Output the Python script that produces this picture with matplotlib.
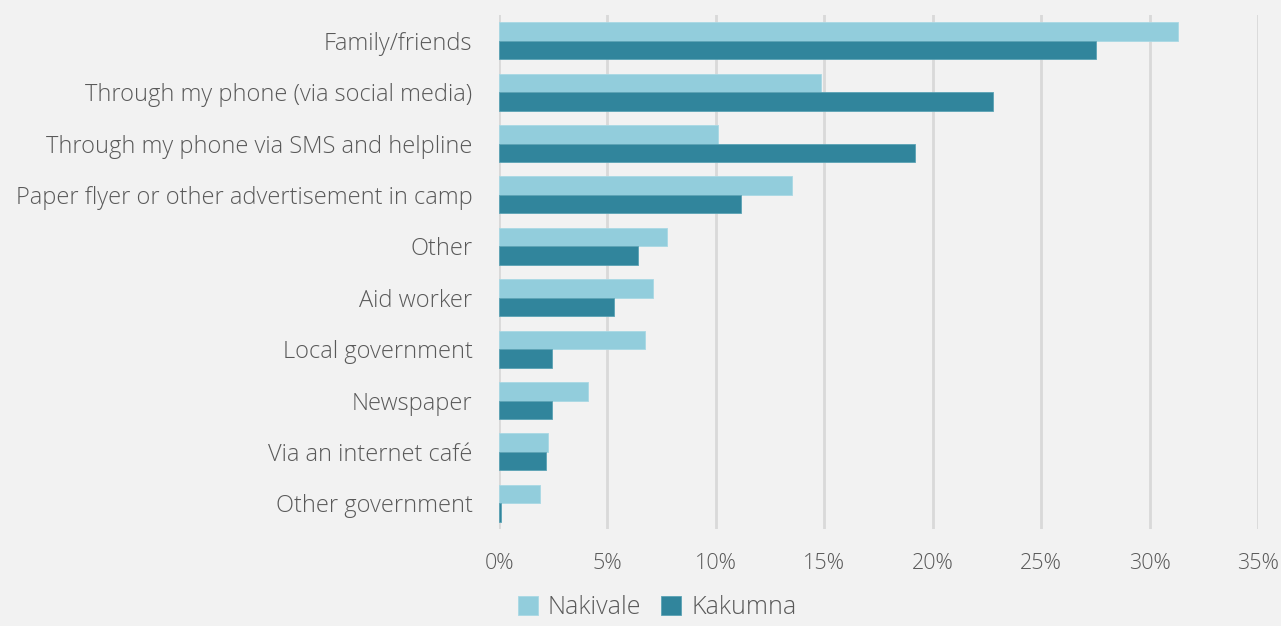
import matplotlib
matplotlib.use("Agg")
import matplotlib.pyplot as plt
import numpy as np
from matplotlib.ticker import FuncFormatter

categories = ["Family/friends", "Through my phone (via social media)",
              "Through my phone via SMS and helpline",
              "Paper flyer or other advertisement in camp", "Other", "Aid worker",
              "Local government", "Newspaper", "Via an internet café", "Other government"]
nakivale = [31.3, 14.85, 10.1, 13.5, 7.75, 7.1, 6.75, 4.1, 2.25, 1.9]
kakumna = [27.55, 22.8, 19.2, 11.15, 6.4, 5.3, 2.45, 2.45, 2.15, 0.1]
xticks = [0, 5, 10, 15, 20, 25, 30, 35]

plt.rcParams['font.family'] = ['Open Sans', 'DejaVu Sans']
plt.rcParams['font.weight'] = 'light'
bg = "#F2F2F2"
txt = "#595959"
c1 = "#92CDDC"
c2 = "#31859C"

fig = plt.figure(figsize=(12.81, 6.26), dpi=100, facecolor=bg)
ax = fig.add_axes([499/1281, 1-529/626, (1258-499)/1281, (529-15)/626])
ax.set_facecolor(bg)

n = len(categories)
y = np.arange(n)
h = 0.36
ax.barh(y - h/2, nakivale, height=h, color=c1, label="Nakivale", zorder=3,
        edgecolor="#A9D8E4", linewidth=0.6)
ax.barh(y + h/2, kakumna, height=h, color=c2, label="Kakumna", zorder=3,
        edgecolor="#5BA3B5", linewidth=0.6)

ax.set_ylim(n - 0.5, -0.5)
ax.set_xlim(0, 35)
ax.set_xticks(xticks)
ax.xaxis.set_major_formatter(FuncFormatter(lambda v, p: f"{v:.0f}%"))
ax.set_yticks(y)
ax.set_yticklabels(categories)
ax.tick_params(axis='y', length=0, pad=19, labelsize=17, labelcolor=txt)
ax.tick_params(axis='x', length=0, pad=17, labelsize=15.5, labelcolor=txt)
ax.grid(axis='x', color="#D9D9D9", linewidth=2, zorder=0)
for s in ax.spines.values():
    s.set_visible(False)

leg = fig.legend(loc='lower center', bbox_to_anchor=(657/1281, -0.026), ncol=2,
                 frameon=False, fontsize=18, handlelength=0.8, handleheight=0.8,
                 handletextpad=0.4, columnspacing=0.8)
for t in leg.get_texts():
    t.set_color(txt)

fig.savefig("out.png", dpi=100, facecolor=bg)
